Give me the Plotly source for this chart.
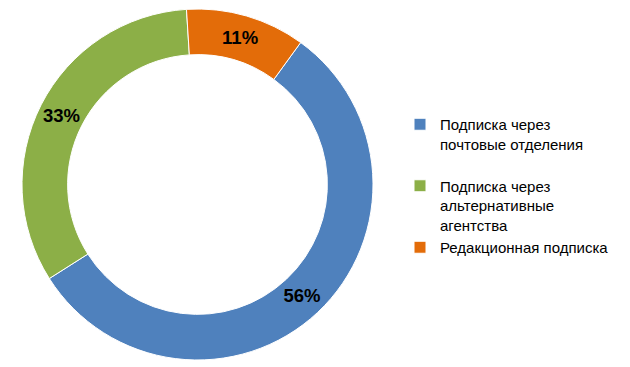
import plotly.graph_objects as go

labels = ["Подписка через<br>почтовые отделения<br> ",
          "Подписка через<br>альтернативные<br>агентства",
          "Редакционная подписка"]
values = [56, 33, 11]
colors = ["#4F81BD", "#8CAF47", "#E36C09"]

W, H = 630, 367
cx, cy, r = 197.5, 184.5, 175.5

fig = go.Figure(go.Pie(
    labels=labels,
    values=values,
    sort=False,
    direction="clockwise",
    rotation=36,
    hole=0.74,
    marker=dict(colors=colors, line=dict(color="white", width=1)),
    texttemplate="<b>%{percent}</b>",
    textposition="inside",
    insidetextorientation="horizontal",
    textfont=dict(family="Liberation Sans, Arial", size=18.5, color="black"),
    hoverinfo="skip",
    domain=dict(x=[(cx - r) / W, (cx + r) / W], y=[(H - cy - r) / H, (H - cy + r) / H]),
))

fig.update_layout(
    width=W, height=H,
    margin=dict(l=0, r=0, t=0, b=0),
    paper_bgcolor="white",
    plot_bgcolor="white",
    font=dict(family="Liberation Sans, Arial", size=15, color="black"),
    legend=dict(x=400 / W, xanchor="left", y=1 - 108 / H, yanchor="top",
                valign="top", font=dict(size=15, color="black"),
                bgcolor="rgba(0,0,0,0)"),
    showlegend=True,
)

fig.write_html("out.html")
